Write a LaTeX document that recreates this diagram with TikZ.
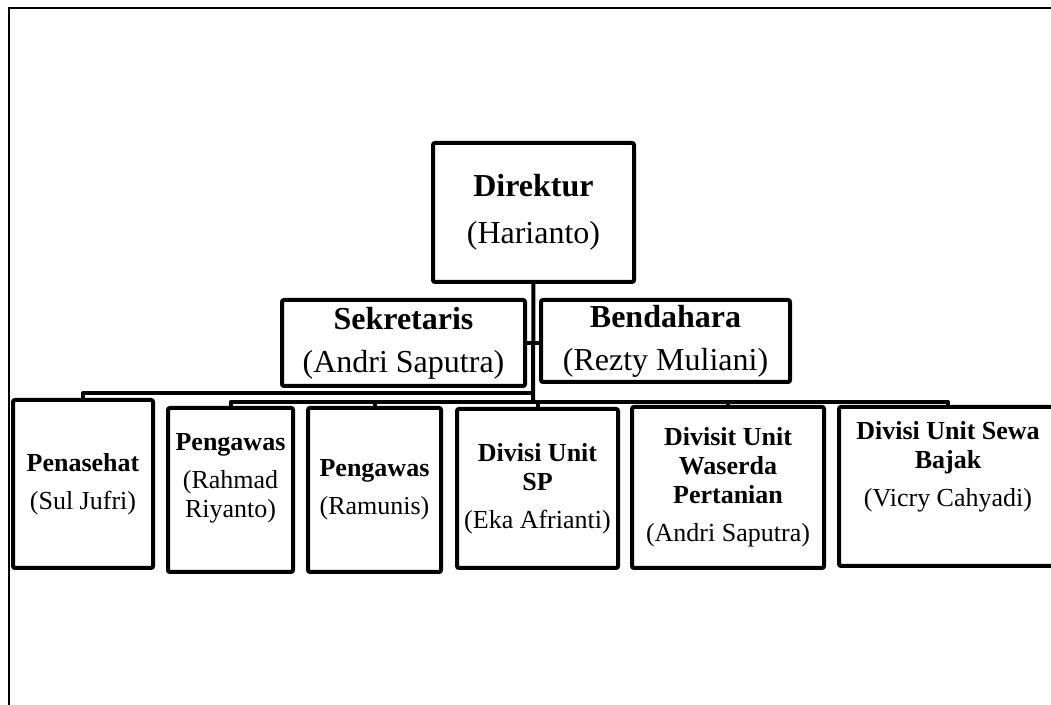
\documentclass[tikz,border=0pt]{standalone}
\usepackage{fontspec}
\setmainfont{Liberation Serif}
\usetikzlibrary{positioning,calc}
\tikzset{orgbox/.style={draw, line width=2pt, rounded corners=1pt, align=center, inner sep=2pt, outer sep=0pt}}
\tikzset{headbox/.style={orgbox, font=\fontsize{16}{19.5}\selectfont}}
\tikzset{unitbox/.style={orgbox, font=\fontsize{13}{14.5}\selectfont}}
\tikzset{conn/.style={draw, line width=2pt, line join=round}}

\begin{document}
\begin{tikzpicture}[x=0.5pt, y=-0.5pt]
    \useasboundingbox (0,0) rectangle (1051,705);
    % page frame
    \draw[line width=0.75pt] (9,705) -- (9,8) -- (1051,8);

    \node[headbox, minimum width=100.5pt, minimum height=69.5pt] (dir) at (533.5,212.5)
        {\textbf{Direktur}\\[4pt](Harianto)};
    \node[headbox, minimum width=121.5pt, minimum height=43pt] (sek) at (403.5,343)
        {\textbf{Sekretaris}\\[2pt](Andri Saputra)};
    \node[headbox, minimum width=124.5pt, minimum height=41pt] (ben) at (665.5,341)
        {\textbf{Bendahara}\\[2pt](Rezty Muliani)};

    \node[unitbox, minimum width=70pt, minimum height=84pt] (pen) at (83,484)
        {\textbf{Penasehat}\\[4.5pt](Sul Jufri)};
    \node[unitbox, minimum width=62.5pt, minimum height=82pt] (pw1) at (230.5,490)
        {\textbf{Pengawas}\\[4.5pt](Rahmad\\Riyanto)\\\mbox{}};
    \node[unitbox, minimum width=66.5pt, minimum height=82pt] (pw2) at (374.5,490)
        {\textbf{Pengawas}\\[4.5pt](Ramunis)};
    \node[unitbox, minimum width=80.5pt, minimum height=79.5pt] (sp) at (537.5,488.5)
        {\textbf{Divisi Unit}\\\textbf{SP}\\[4.5pt](Eka Afrianti)};
    \node[unitbox, minimum width=96pt, minimum height=80.5pt] (was) at (728,487.5)
        {\textbf{Divisit Unit}\\\textbf{Waserda}\\\textbf{Pertanian}\\[4.5pt](Andri Saputra)};
    \node[unitbox, minimum width=109pt, minimum height=79.5pt] (sew) at (948,486.5)
        {\textbf{Divisi Unit Sewa}\\\textbf{Bajak}\\[4.5pt](Vicry Cahyadi)\\[8.4pt]\mbox{}};

    % bus lines
    \coordinate (b1) at (533,393);
    \coordinate (b2) at (533,402);
    \draw[conn] (dir.south) -- (b2);
    \draw[conn] (sek.east) -- (sek.east -| ben.west);
    \draw[conn] (b1) -| (pen.north);
    \draw[conn] (pw1.north) |- (b2) -| (sew.north);
    \foreach \u in {pw2,sp,was}
        \draw[conn] (\u.north) -- (\u.north |- b2);
\end{tikzpicture}
\end{document}
